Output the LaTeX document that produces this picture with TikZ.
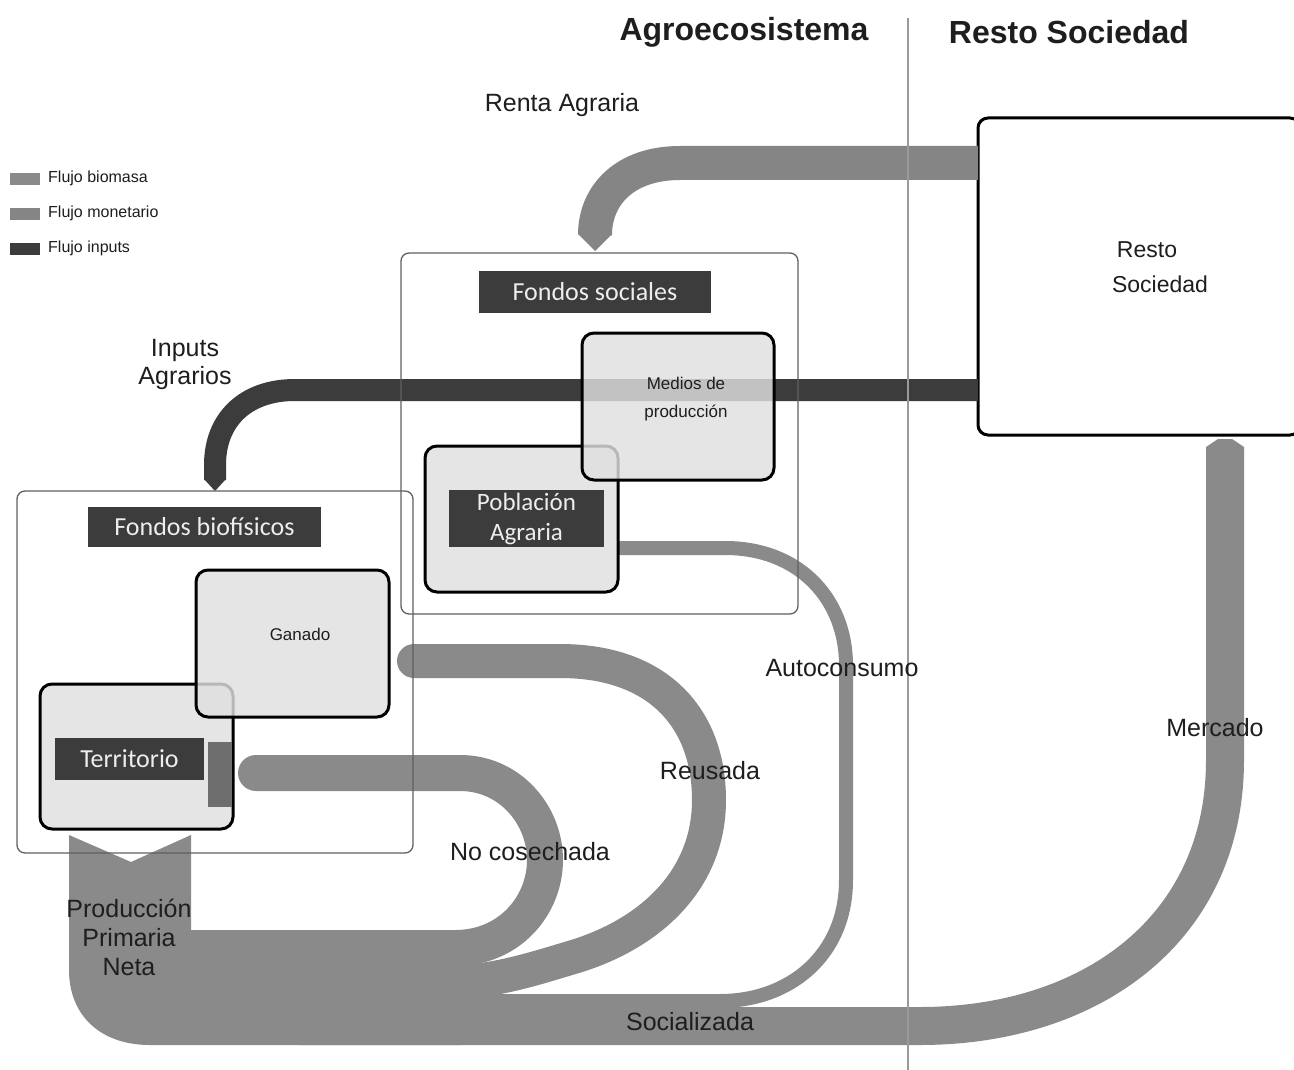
\documentclass[tikz,border=0pt]{standalone}
\usepackage{fontspec}
\setmainfont{Liberation Sans}
\newfontfamily\labfont{Carlito}
\newcommand{\myfs}[1]{\fontsize{#1}{#1}\selectfont}
\definecolor{bio}{HTML}{8A8A8A}
\definecolor{mon}{HTML}{858585}
\definecolor{inp}{HTML}{3C3C3C}
\definecolor{boxfill}{HTML}{E0E0E0}
\definecolor{sepc}{HTML}{9A9A9A}
\definecolor{framec}{HTML}{606060}
\definecolor{txt}{HTML}{1E1E1E}
\definecolor{terrbar}{HTML}{6E6E6E}
\begin{document}
\begin{tikzpicture}[x=1pt,y=-1pt,
  bigbox/.style={draw=framec, line width=1.3pt, rounded corners=8pt, inner sep=0pt},
  fundbox/.style={draw=black, line width=3pt, rounded corners=12pt, fill=boxfill, fill opacity=0.82, text opacity=1, inner sep=0pt},
  darklab/.style={fill=inp, text=white!93!black, inner sep=0pt, font=\labfont\myfs{26}},
  lbl/.style={text=txt, inner sep=0pt, font=\myfs{25}},
  title/.style={text=txt, inner sep=0pt, font=\bfseries\myfs{32}},
  legtxt/.style={text=txt, inner sep=0pt, anchor=west, font=\myfs{16}},
  band/.style={draw=bio, line cap=butt, line join=round},
  roundband/.style={draw=bio, line cap=round, line join=round}]
\useasboundingbox (0,0) rectangle (1294,1070);
\fill[white] (0,0) rectangle (1294,1070);

% ---- legend
\fill[bio] (10,173) rectangle (40,185);
\fill[mon] (10,208) rectangle (40,220);
\fill[inp] (10,243) rectangle (40,255);
\node[legtxt] (lg1) at (48,178) {Flujo biomasa};
\node[legtxt] (lg2) at (48,213) {Flujo monetario};
\node[legtxt] (lg3) at (48,248) {Flujo inputs};

% ---- Resto Sociedad box
\node[draw=black, line width=3pt, rounded corners=10pt, fill=white, minimum width=322pt, minimum height=317pt, inner sep=0pt] (resto) at (1139,276.5) {};

% ---- flow end points
\coordinate (rentaS) at (978,163);
\coordinate (rentaE) at (595,235);
\coordinate (inpS) at (978,390);
\coordinate (inpE) at (215,480);

% ---- Renta agraria (monetary flow)
\draw[band, draw=mon, line width=34pt] (rentaS) -- (680,163) .. controls (625,163) and (595,195) .. (rentaE);
\fill[mon] (578,234) -- (595,251) -- (612,234) -- cycle;

% ---- Inputs agrarios
\draw[band, draw=inp, line width=22pt] (inpS) -- (295,390) .. controls (245,390) and (215,420) .. (215,465) -- (inpE);
\fill[inp] (204,479) -- (215,491) -- (226,479) -- cycle;

% ---- biomass flows
\coordinate (nocS) at (256,773);
\coordinate (reuS) at (414,661);
\coordinate (autS) at (618,548);
\coordinate (socE) at (1225,452);
\coordinate (ppnJ) at (300,1001);

% Reusada
\draw[roundband, line width=34pt] (reuS) -- (560,661) .. controls (660,661) and (709,720) .. (709,800)
   .. controls (709,880) and (650,935) .. (570,958) .. controls (530,970) and (490,983) .. (440,983);
% No cosechada
\draw[roundband, line width=36pt] (nocS) -- (460,773) .. controls (510,773) and (545,815) .. (545,860)
   .. controls (545,905) and (510,948) .. (455,948) -- (430,948);
% Autoconsumo
\draw[band, line width=14pt] (autS) -- (725,548) .. controls (800,548) and (846,600) .. (846,665) -- (846,880)
   .. controls (846,955) and (790,1001) .. (720,1001) -- (ppnJ);
% Socializada / Mercado
\draw[band, line width=38pt] (300,1026) -- (920,1026) .. controls (1090,1026) and (1225,930) .. (1225,760) -- (socE);
\fill[bio] (1206,453) -- (1206,447) -- (1218,439) -- (1232,439) -- (1244,447) -- (1244,453) -- cycle;
% Produccion primaria neta (trunk)
\fill[bio] (69,835) -- (131,862) -- (191,835) -- (191,930) -- (460,930) -- (460,1045) -- (150,1045)
   .. controls (100,1045) and (69,1015) .. (69,970) -- cycle;

% ---- fund boxes
\node[fundbox, minimum width=193pt, minimum height=145pt] (terr) at (136.5,756.5) {};
\node[fundbox, minimum width=193pt, minimum height=147pt] (ganado) at (292.5,643.5) {};
\node[fundbox, minimum width=193pt, minimum height=146pt] (pobl) at (521.5,519) {};
\node[fundbox, minimum width=192pt, minimum height=147pt] (medios) at (678,406.5) {};
\fill[terrbar] (208,742) rectangle (232,807);

\node[text=txt, inner sep=0pt, font=\myfs{17}] (ganadotxt) at (300,634) {Ganado};
\node[text=txt, inner sep=0pt, align=center, font=\fontsize{17}{28}\selectfont] (mediostxt) at (686,399) {Medios de\\producción};

% ---- dark labels
\node[darklab, minimum width=232pt, minimum height=42pt] (fsoclab) at (595,292) {Fondos sociales};
\node[darklab, minimum width=155pt, minimum height=57pt, align=center, font=\labfont\fontsize{25}{30}\selectfont] (poblab) at (526.5,518.5) {Población\\Agraria};
\node[darklab, minimum width=233pt, minimum height=40pt] (fbiolab) at (204.5,527) {Fondos biofísicos};
\node[darklab, minimum width=149pt, minimum height=42pt] (terrlab) at (129.5,759) {Territorio};

% ---- big frames
\node[bigbox, minimum width=397pt, minimum height=361pt] (fsoc) at (599.5,433.5) {};
\node[bigbox, minimum width=396pt, minimum height=362pt] (fbio) at (215,672) {};

% ---- separator
\draw[sepc, line width=1.3pt] (908,18) coordinate (sepT) -- (908,1070) coordinate (sepB);

% ---- texts
\node[title] (t1) at (744,32) {Agroecosistema};
\node[title] (t2) at (1069,32) {Resto Sociedad};
\node[text=txt, inner sep=0pt, font=\myfs{23}] (rs1) at (1147,250) {Resto};
\node[text=txt, inner sep=0pt, font=\myfs{23}] (rs2) at (1160,284) {Sociedad};
\node[lbl] (renta) at (562,105) {Renta Agraria};
\node[lbl, align=center, font=\fontsize{25}{28}\selectfont] (inputs) at (185,364) {Inputs\\Agrarios};
\node[lbl] (autoc) at (842,668) {Autoconsumo};
\node[lbl] (reus) at (710,771) {Reusada};
\node[lbl] (nocos) at (530,852) {No cosechada};
\node[lbl] (merc) at (1215,728) {Mercado};
\node[lbl] (soc) at (690,1022) {Socializada};
\node[lbl, align=center, font=\fontsize{25}{29}\selectfont] (ppn) at (129,937) {Producción\\Primaria\\Neta};
\end{tikzpicture}
\end{document}
